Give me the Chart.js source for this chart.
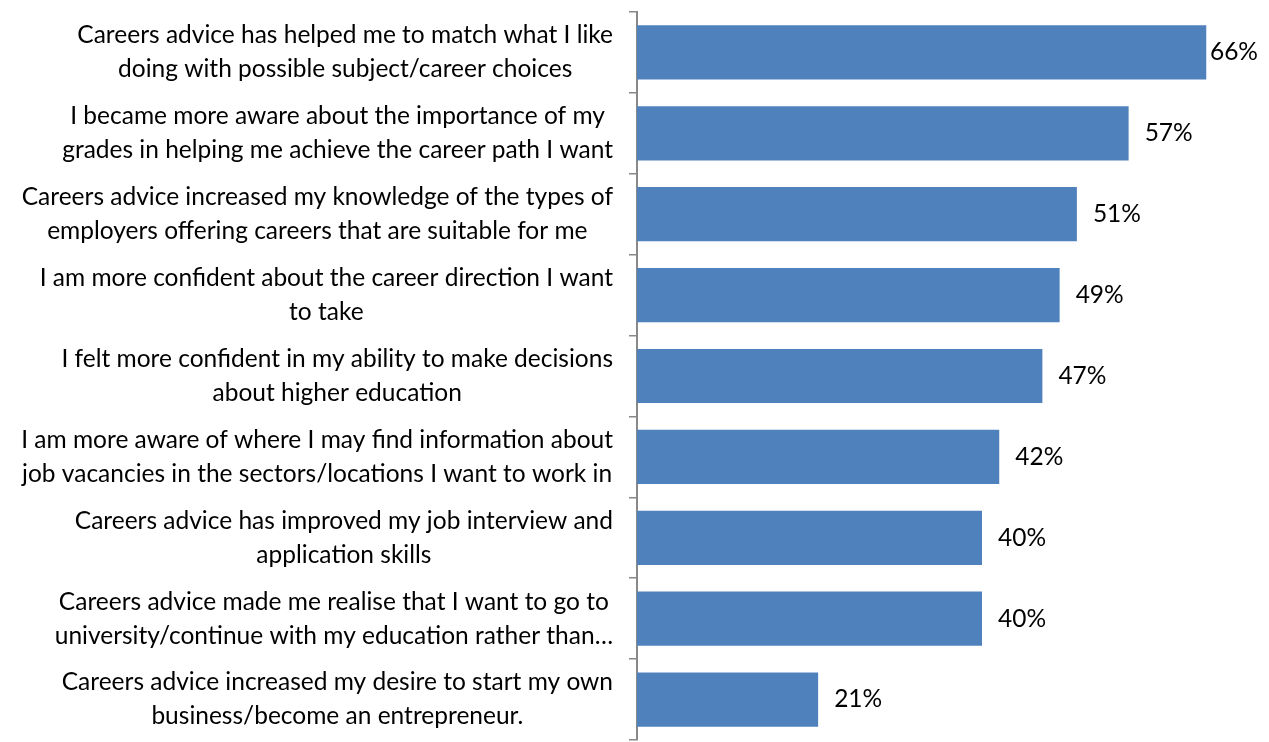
<!DOCTYPE html>
<html lang="en">
<head>
  <meta charset="UTF-8" />
  <title>Impact of careers advice</title>
  <style>
    html, body { margin: 0; padding: 0; background: #fff; }
    #wrap { width: 1269px; height: 742px; }
  </style>
</head>
<body>
  <div id="wrap"><canvas id="chart"></canvas></div>

  <script src="https://cdn.jsdelivr.net/npm/chart.js"></script>
  <script>
    // statements (two lines each) and share of respondents agreeing
    const statements = [
      ['Careers advice has helped me to match what I like', 'doing with possible subject/career choices'],
      ['I became more aware about the importance of my', 'grades in helping me achieve the career path I want'],
      ['Careers advice increased my knowledge of the types of', 'employers offering careers that are suitable for me'],
      ['I am more confident about the career direction I want', 'to take'],
      ['I felt more confident in my ability to make decisions', 'about higher education'],
      ['I am more aware of where I may find information about', 'job vacancies in the sectors/locations I want to work in'],
      ['Careers advice has improved my job interview and', 'application skills'],
      ['Careers advice made me realise that I want to go to', 'university/continue with my education rather than\u2026'],
      ['Careers advice increased my desire to start my own', 'business/become an entrepreneur.']
    ];
    const agreePct = [66, 57, 51, 49, 47, 42, 40, 40, 21];

    const FONT = 'Lato, "Open Sans", sans-serif';
    const FONT_SIZE = 24.5;

    // category labels: lines centred on each other, block pushed to the axis
    const statementLabels = {
      id: 'statementLabels',
      afterDraw(chart) {
        const { ctx, scales: { y } } = chart;
        const right = y.right - 24;
        ctx.save();
        ctx.font = FONT_SIZE + 'px ' + FONT;
        ctx.fillStyle = '#000';
        ctx.textAlign = 'center';
        ctx.textBaseline = 'middle';
        statements.forEach((lines, i) => {
          const cy = y.getPixelForTick(i);
          const w = Math.max(...lines.map(l => ctx.measureText(l).width));
          const cx = right - w / 2;
          lines.forEach((l, k) => {
            ctx.fillText(l, cx, cy + (k - (lines.length - 1) / 2) * 34);
          });
        });
        ctx.restore();
      }
    };

    // value labels at the end of each bar, kept inside the plot area
    const valueLabels = {
      id: 'valueLabels',
      afterDatasetsDraw(chart) {
        const { ctx, chartArea } = chart;
        const meta = chart.getDatasetMeta(0);
        ctx.save();
        ctx.font = FONT_SIZE + 'px ' + FONT;
        ctx.fillStyle = '#000';
        ctx.textAlign = 'left';
        ctx.textBaseline = 'middle';
        meta.data.forEach((bar, i) => {
          const txt = agreePct[i] + '%';
          const w = ctx.measureText(txt).width;
          const x = Math.min(bar.x + 16, chartArea.right - w);
          ctx.fillText(txt, x, bar.y);
        });
        ctx.restore();
      }
    };

    new Chart(document.getElementById('chart'), {
      type: 'bar',
      data: {
        labels: statements.map(s => s.join(' ')),
        datasets: [{
          data: agreePct,
          backgroundColor: '#4f81bd',
          borderWidth: 0,
          categoryPercentage: 1,
          barPercentage: 0.67
        }]
      },
      options: {
        indexAxis: 'y',
        responsive: true,
        maintainAspectRatio: false,
        animation: false,
        layout: { padding: { top: 12, right: 11, bottom: 2, left: 0 } },
        plugins: { legend: { display: false }, tooltip: { enabled: false } },
        scales: {
          x: { display: false, min: 0, max: 72 },
          y: {
            afterFit(scale) { scale.width = 637; },
            ticks: { display: false },
            grid: {
              drawOnChartArea: false,
              drawTicks: true,
              tickLength: 8,
              color: '#898989',
              lineWidth: 1.5
            },
            border: { color: '#898989', width: 2 }
          }
        }
      },
      plugins: [statementLabels, valueLabels]
    });
  </script>
</body>
</html>
